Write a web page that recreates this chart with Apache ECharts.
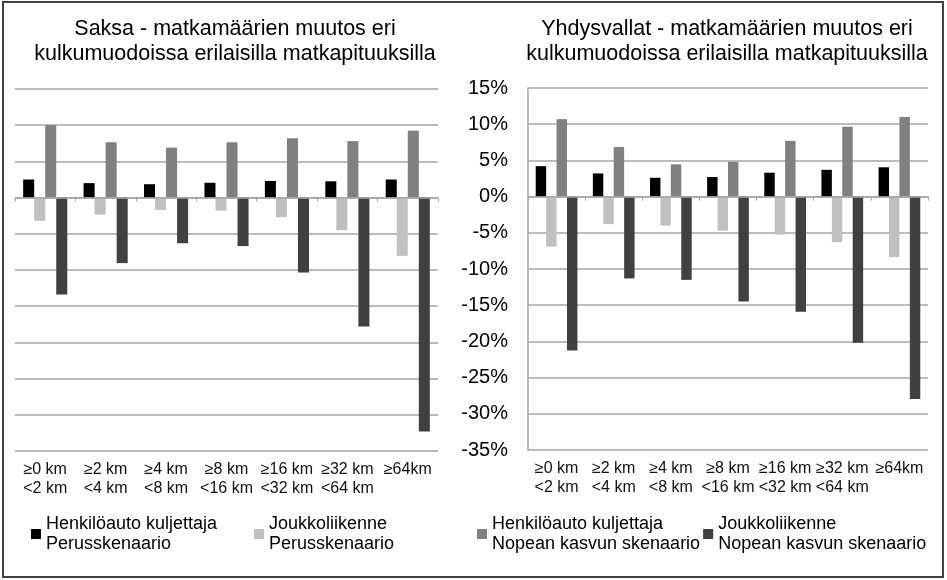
<!DOCTYPE html>
<html>
<head>
<meta charset="utf-8">
<script src="https://cdn.jsdelivr.net/npm/echarts@6/dist/echarts.min.js"></script>
<style>
  html, body { margin: 0; padding: 0; background: #fff; }
  #chart { width: 947px; height: 580px; }
</style>
</head>
<body>
<div id="chart"></div>
<script>
const categories = ['≥0 km\n<2 km', '≥2 km\n<4 km', '≥4 km\n<8 km', '≥8 km\n<16 km',
  '≥16 km\n<32 km', '≥32 km\n<64 km', '≥64km'];

const seriesNames = [
  'Henkilöauto kuljettaja\nPerusskenaario',
  'Joukkoliikenne\nPerusskenaario',
  'Henkilöauto kuljettaja\nNopean kasvun skenaario',
  'Joukkoliikenne\nNopean kasvun skenaario'
];
const seriesColors = ['#000000', '#c0c0c0', '#808080', '#404040'];

// Saksa (Germany)
const deCarBase = [2.5, 2.0, 1.85, 2.05, 2.3, 2.25, 2.5];
const dePtBase = [-3.2, -2.35, -1.7, -1.8, -2.7, -4.5, -8.05];
const deCarFast = [10.0, 7.65, 6.9, 7.65, 8.2, 7.8, 9.25];
const dePtFast = [-13.4, -9.05, -6.3, -6.7, -10.35, -17.8, -32.3];

// Yhdysvallat (USA)
const usCarBase = [4.2, 3.2, 2.6, 2.7, 3.3, 3.7, 4.05];
const usPtBase = [-6.9, -3.8, -4.0, -4.7, -5.25, -6.3, -8.35];
const usCarFast = [10.7, 6.85, 4.45, 4.8, 7.7, 9.65, 11.0];
const usPtFast = [-21.25, -11.3, -11.5, -14.5, -15.9, -20.2, -27.95];

const yTicks = { min: -35, max: 15, interval: 5 };

const font = '"Liberation Sans", Arial, sans-serif';
const gridColor = '#a6a6a6';

function makeSeries(grid, values) {
  return values.map((data, i) => ({
    name: seriesNames[i],
    type: 'bar',
    xAxisIndex: grid * 2,
    yAxisIndex: grid,
    data,
    barGap: 0,
    barCategoryGap: '27%',
    itemStyle: { color: seriesColors[i] }
  }));
}

function makeXAxes(grid) {
  return [
    {
      type: 'category',
      gridIndex: grid,
      data: categories,
      position: 'bottom',
      axisLine: { onZero: true, lineStyle: { color: gridColor, width: 1.5 } },
      axisTick: { show: true, length: 4, lineStyle: { color: gridColor } },
      axisLabel: { show: false },
      z: 3
    },
    {
      type: 'category',
      gridIndex: grid,
      data: categories,
      position: 'bottom',
      axisLine: { show: false, onZero: false },
      axisTick: { show: false },
      axisLabel: {
        show: true,
        interval: 0,
        margin: 9,
        fontFamily: font,
        fontSize: 16,
        lineHeight: 19,
        color: '#111'
      }
    }
  ];
}

const chart = echarts.init(document.getElementById('chart'));

chart.setOption({
  backgroundColor: '#ffffff',
  animation: false,
  title: [
    {
      text: 'Saksa - matkamäärien muutos eri\nkulkumuodoissa erilaisilla matkapituuksilla',
      left: 235,
      top: 17,
      padding: 0,
      textAlign: 'center',
      textStyle: { fontFamily: font, fontSize: 21.5, lineHeight: 25, fontWeight: 'normal', color: '#000' }
    },
    {
      text: 'Yhdysvallat - matkamäärien muutos eri\nkulkumuodoissa erilaisilla matkapituuksilla',
      left: 727,
      top: 17,
      padding: 0,
      textAlign: 'center',
      textStyle: { fontFamily: font, fontSize: 21.5, lineHeight: 25, fontWeight: 'normal', color: '#000' }
    }
  ],
  legend: {
    data: seriesNames,
    left: 31,
    top: 504,
    padding: 0,
    itemWidth: 10,
    itemHeight: 10,
    itemGap: 3,
    icon: 'rect',
    textStyle: {
      fontFamily: font,
      fontSize: 18,
      lineHeight: 20,
      width: 205,
      padding: [20, 0, 0, 0],
      color: '#000'
    }
  },
  grid: [
    { left: 15, right: 509, top: 89, bottom: 129 },
    { left: 528, right: 19, top: 88, bottom: 130 }
  ],
  xAxis: [...makeXAxes(0), ...makeXAxes(1)],
  yAxis: [
    {
      type: 'value',
      gridIndex: 0,
      min: yTicks.min,
      max: yTicks.max,
      interval: yTicks.interval,
      axisLine: { show: false },
      axisTick: { show: false },
      axisLabel: { show: false },
      splitLine: { lineStyle: { color: gridColor, width: 1.5 } }
    },
    {
      type: 'value',
      gridIndex: 1,
      min: yTicks.min,
      max: yTicks.max,
      interval: yTicks.interval,
      axisLine: { show: true, lineStyle: { color: gridColor, width: 1.5 } },
      axisTick: { show: false },
      axisLabel: {
        formatter: '{value}%',
        margin: 20,
        fontFamily: font,
        fontSize: 20,
        color: '#000'
      },
      splitLine: { lineStyle: { color: gridColor, width: 1.5 } }
    }
  ],
  series: [
    ...makeSeries(0, [deCarBase, dePtBase, deCarFast, dePtFast]),
    ...makeSeries(1, [usCarBase, usPtBase, usCarFast, usPtFast])
  ],
  graphic: [
    {
      type: 'rect',
      shape: { x: 3, y: 2, width: 940, height: 575 },
      style: { fill: 'none', stroke: '#404040', lineWidth: 2 },
      silent: true
    }
  ]
});
</script>
</body>
</html>
